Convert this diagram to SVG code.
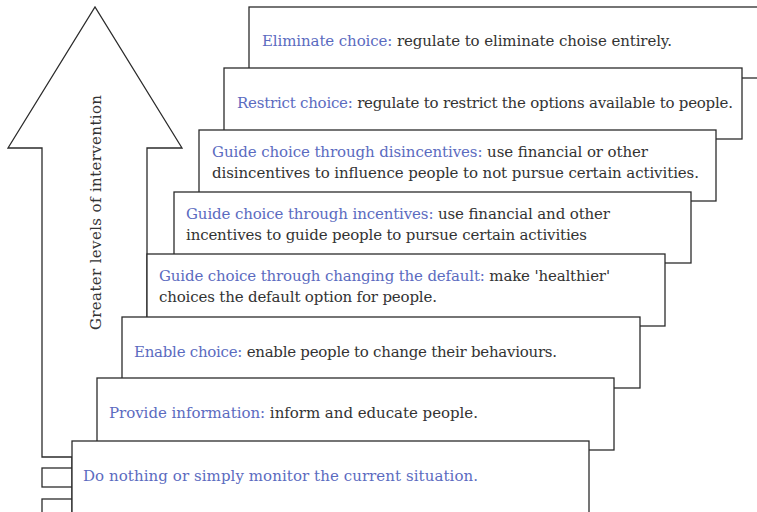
<svg xmlns="http://www.w3.org/2000/svg" width="757" height="512" viewBox="0 0 757 512">
<style>
.box{fill:#fff;stroke:#2b2b2b;stroke-width:1.3}
.arr{fill:#fff;stroke:#2b2b2b;stroke-width:1.3;stroke-linejoin:miter}
text{font-family:"DejaVu Serif","Liberation Serif",serif;font-size:15px;fill:#333}
.b{fill:#5b6bbf}
</style>
<rect width="757" height="512" fill="#fff"/>
<g id="arrow">
<path class="arr" d="M147,512 L147,148 L182,148 L95,7 L8,148 L42,148 L42,457 L72,457 L72,512 Z"/>
<rect class="arr" x="42" y="468" width="30" height="19"/>
<rect class="arr" x="42" y="499" width="30" height="20"/>
<text transform="translate(101,212.5) rotate(-90)" text-anchor="middle" textLength="235">Greater levels of intervention</text>
</g>
<g id="eliminate">
<rect class="box" x="249" y="7" width="520" height="71"/>
<text x="262" y="46" textLength="410"><tspan class="b">Eliminate choice:</tspan> regulate to eliminate choise entirely.</text>
</g>
<g id="restrict">
<rect class="box" x="224" y="68" width="518" height="71"/>
<text x="237" y="108" textLength="496"><tspan class="b">Restrict choice:</tspan> regulate to restrict the options available to people.</text>
</g>
<g id="disincentives">
<rect class="box" x="199" y="130" width="517" height="71"/>
<text x="212" y="157" textLength="436"><tspan class="b">Guide choice through disincentives:</tspan> use financial or other</text>
<text x="212" y="178" textLength="487">disincentives to influence people to not pursue certain activities.</text>
</g>
<g id="incentives">
<rect class="box" x="174" y="192" width="517" height="71"/>
<text x="186" y="219" textLength="424"><tspan class="b">Guide choice through incentives:</tspan> use financial and other</text>
<text x="186" y="240" textLength="401">incentives to guide people to pursue certain activities</text>
</g>
<g id="default">
<rect class="box" x="147" y="254" width="518" height="72"/>
<text x="159" y="281" textLength="451"><tspan class="b">Guide choice through changing the default:</tspan> make 'healthier'</text>
<text x="159" y="302" textLength="278">choices the default option for people.</text>
</g>
<g id="enable">
<rect class="box" x="122" y="317" width="518" height="71"/>
<text x="134" y="357" textLength="423"><tspan class="b">Enable choice:</tspan> enable people to change their behaviours.</text>
</g>
<g id="provide">
<rect class="box" x="97" y="378" width="517" height="72"/>
<text x="109" y="418" textLength="369"><tspan class="b">Provide information:</tspan> inform and educate people.</text>
</g>
<g id="nothing">
<rect class="box" x="72" y="441" width="517" height="80"/>
<text x="83" y="481" class="b" textLength="395">Do nothing or simply monitor the current situation.</text>
</g>
<g id="connectors"></g>
</svg>
